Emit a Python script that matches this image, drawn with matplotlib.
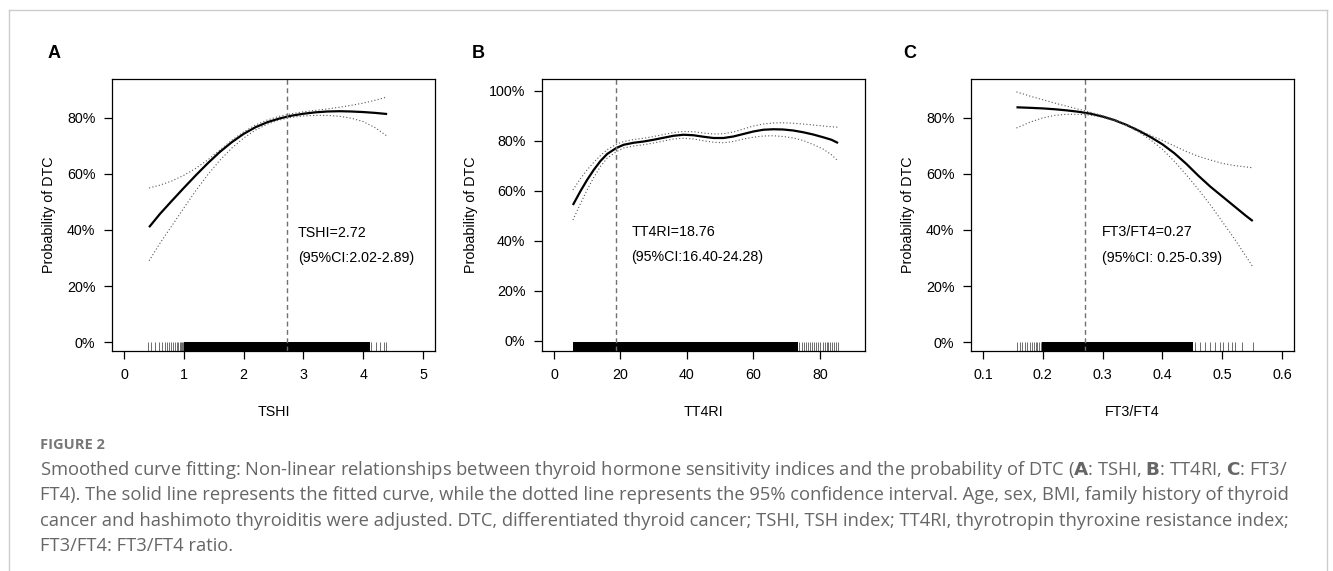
import numpy as np
import matplotlib.pyplot as plt
from matplotlib.lines import Line2D

plt.rcParams['font.family'] = ['Liberation Sans', 'DejaVu Sans']

# ---- panel A: TSHI ----
tshi_x = [0.42, 0.6, 0.8, 1.0, 1.2, 1.4, 1.6, 1.8, 2.0, 2.2, 2.4, 2.6, 2.8, 3.0, 3.2, 3.4, 3.6, 3.8, 4.0, 4.2, 4.4]
tshi_fit = [0.41, 0.457, 0.504, 0.55, 0.595, 0.638, 0.678, 0.713, 0.743, 0.767, 0.785, 0.798, 0.808, 0.815,
            0.82, 0.823, 0.824, 0.823, 0.821, 0.818, 0.814]
tshi_hi = [0.55, 0.56, 0.575, 0.595, 0.62, 0.65, 0.685, 0.72, 0.75, 0.775, 0.793, 0.806, 0.815, 0.822,
           0.827, 0.832, 0.838, 0.845, 0.853, 0.863, 0.875]
tshi_lo = [0.29, 0.352, 0.415, 0.478, 0.54, 0.597, 0.648, 0.692, 0.728, 0.757, 0.778, 0.793, 0.802, 0.807,
           0.809, 0.809, 0.806, 0.799, 0.787, 0.765, 0.735]
tshi_rug = [0.40, 0.45, 0.52, 0.58, 0.64, 0.68, 0.72, 0.76, 0.79, 0.82, 0.85, 0.88, 0.90, 0.93, 0.95, 0.97, 0.99,
            4.13, 4.22, 4.28, 4.34, 4.38]
tshi_dense = [1.0, 4.11]
tshi_cut = 2.72

# ---- panel B: TT4RI ----
tt4ri_x = [5.7, 8, 10, 12, 14, 16, 18.76, 21, 24, 27, 30, 33, 36, 39, 42, 45, 48, 51, 54, 57, 60, 63, 66,
           69, 72, 75, 78, 81, 83.5, 85.5]
tt4ri_fit = [0.544, 0.60, 0.645, 0.685, 0.72, 0.748, 0.772, 0.785, 0.793, 0.798, 0.805, 0.813, 0.821, 0.825,
             0.823, 0.817, 0.812, 0.812, 0.818, 0.828, 0.838, 0.845, 0.847, 0.846, 0.842, 0.835, 0.826,
             0.815, 0.805, 0.792]
tt4ri_hi = [0.604, 0.65, 0.685, 0.715, 0.742, 0.765, 0.787, 0.798, 0.806, 0.811, 0.818, 0.826, 0.834, 0.838,
            0.837, 0.832, 0.828, 0.829, 0.836, 0.848, 0.86, 0.868, 0.872, 0.873, 0.871, 0.868, 0.864,
            0.86, 0.857, 0.855]
tt4ri_lo = [0.484, 0.55, 0.605, 0.655, 0.698, 0.731, 0.757, 0.772, 0.78, 0.785, 0.792, 0.80, 0.808, 0.811,
            0.808, 0.801, 0.795, 0.793, 0.798, 0.808, 0.815, 0.82, 0.821, 0.818, 0.812, 0.802, 0.786,
            0.768, 0.745, 0.72]
tt4ri_rug = [73.8, 74.5, 75.2, 75.8, 76.5, 77.0, 77.6, 78.3, 78.9, 79.6, 80.2, 80.9, 81.5, 82.1,
             82.6, 83.2, 83.8, 84.4, 85.0, 85.5]
tt4ri_dense = [5.7, 73.4]
tt4ri_cut = 18.76

# ---- panel C: FT3/FT4 ----
ft_x = [0.156, 0.18, 0.2, 0.22, 0.24, 0.26, 0.28, 0.30, 0.32, 0.34, 0.36, 0.38, 0.40, 0.42, 0.44, 0.46,
        0.48, 0.50, 0.52, 0.54, 0.551]
ft_fit = [0.838, 0.836, 0.834, 0.831, 0.827, 0.822, 0.815, 0.805, 0.792, 0.775, 0.755, 0.732, 0.706, 0.674,
          0.636, 0.594, 0.555, 0.52, 0.485, 0.45, 0.432]
ft_hi = [0.893, 0.877, 0.865, 0.853, 0.842, 0.831, 0.82, 0.808, 0.794, 0.777, 0.758, 0.738, 0.72, 0.70,
         0.68, 0.663, 0.65, 0.638, 0.63, 0.625, 0.622]
ft_lo = [0.764, 0.786, 0.80, 0.809, 0.813, 0.813, 0.81, 0.802, 0.79, 0.773, 0.75, 0.722, 0.688, 0.645,
         0.597, 0.545, 0.49, 0.43, 0.37, 0.305, 0.269]
ft_rug = [0.157, 0.162, 0.166, 0.170, 0.174, 0.178, 0.182, 0.185, 0.188, 0.191, 0.194, 0.197,
          0.455, 0.463, 0.471, 0.48, 0.488, 0.496, 0.501, 0.51, 0.516, 0.521, 0.533, 0.551]
ft_dense = [0.198, 0.451]
ft_cut = 0.27

panels = [
    dict(letter='A', x=tshi_x, fit=tshi_fit, hi=tshi_hi, lo=tshi_lo, rug=tshi_rug, dense=tshi_dense,
         cut=tshi_cut, xlabel='TSHI', xticks=[0, 1, 2, 3, 4, 5], xticklabels=['0', '1', '2', '3', '4', '5'],
         xlim=(-0.2, 5.2), ylim=(-0.032, 0.939), yticks=[0, 0.2, 0.4, 0.6, 0.8],
         txt=['TSHI=2.72', '(95%CI:2.02-2.89)'], txt_x=2.91, txt_y=[0.39, 0.30],
         left=112, letter_x=48),
    dict(letter='B', x=tt4ri_x, fit=tt4ri_fit, hi=tt4ri_hi, lo=tt4ri_lo, rug=tt4ri_rug, dense=tt4ri_dense,
         cut=tt4ri_cut, xlabel='TT4RI', xticks=[0, 20, 40, 60, 80], xticklabels=['0', '20', '40', '60', '80'],
         xlim=(-3.6, 93.6), ylim=(-0.04, 1.048), yticks=[0, 0.2, 0.4, 0.6, 0.8, 1.0],
         txt=['TT4RI=18.76', '(95%CI:16.40-24.28)'], txt_x=23.3, txt_y=[0.436, 0.336],
         left=542, letter_x=472),
    dict(letter='C', x=ft_x, fit=ft_fit, hi=ft_hi, lo=ft_lo, rug=ft_rug, dense=ft_dense,
         cut=ft_cut, xlabel='FT3/FT4', xticks=[0.1, 0.2, 0.3, 0.4, 0.5, 0.6],
         xticklabels=['0.1', '0.2', '0.3', '0.4', '0.5', '0.6'],
         xlim=(0.08, 0.62), ylim=(-0.032, 0.939), yticks=[0, 0.2, 0.4, 0.6, 0.8],
         txt=['FT3/FT4=0.27', '(95%CI: 0.25-0.39)'], txt_x=0.2995, txt_y=[0.393, 0.30],
         left=971, letter_x=903),
]

W, H = 1333, 571
fig = plt.figure(figsize=(W / 100, H / 100), dpi=100)
fs = 10.3

for p in panels:
    ax = fig.add_axes([p['left'] / W, 1 - 351 / H, 323 / W, 272 / H])
    ax.plot(p['x'], p['fit'], color='black', lw=1.6, solid_capstyle='butt', solid_joinstyle='round')
    ax.plot(p['x'], p['hi'], color='#555555', lw=0.8, ls=(0, (1, 2)))
    ax.plot(p['x'], p['lo'], color='#555555', lw=0.8, ls=(0, (1, 2)))
    ax.axvline(p['cut'], color='#707070', lw=1.0, ls=(0, (3.5, 2.5)))
    # rug
    ax.vlines(p['rug'], 0, 0.033, transform=ax.get_xaxis_transform(), color='#333333', lw=0.5)
    ax.axvspan(p['dense'][0], p['dense'][1], ymin=0, ymax=0.033, color='black', lw=0)
    for t, ty in zip(p['txt'], p['txt_y']):
        ax.text(p['txt_x'], ty, t, fontsize=fs, va='center', ha='left')
    ax.set_xlim(p['xlim'])
    ax.set_ylim(p['ylim'])
    ax.set_xticks(p['xticks'])
    ax.set_xticklabels(p['xticklabels'])
    ax.set_yticks(p['yticks'])
    ax.set_yticklabels(['%d%%' % round(v * 100) for v in p['yticks']])
    ax.tick_params(labelsize=fs, length=6, width=0.9, direction='out', pad=6)
    for s in ax.spines.values():
        s.set_linewidth(0.9)
    ax.set_xlabel(p['xlabel'], fontsize=fs, labelpad=17)
    ax.set_ylabel('Probability of DTC', fontsize=fs, labelpad=8)
    fig.text(p['letter_x'] / W, 1 - 53 / H, p['letter'], fontsize=13, fontweight='bold', va='center', ha='left')

# outer frame of the figure card
frame_c = '#cccccc'
fig.add_artist(Line2D([9 / W, 1327 / W], [1 - 10 / H, 1 - 10 / H], color=frame_c, lw=1))
fig.add_artist(Line2D([9 / W, 9 / W], [0, 1 - 10 / H], color=frame_c, lw=1))
fig.add_artist(Line2D([1327 / W, 1327 / W], [0, 1 - 10 / H], color=frame_c, lw=1))

cap_font = ['Open Sans', 'DejaVu Sans']
fig.text(40 / W, 1 - 445 / H, 'FIGURE 2', fontsize=10.5, fontweight='bold', color='#777777',
         va='center', ha='left', family=cap_font)
caption = [
    'Smoothed curve fitting: Non-linear relationships between thyroid hormone sensitivity indices and the probability of DTC ($\\bf{A}$: TSHI, $\\bf{B}$: TT4RI, $\\bf{C}$: FT3/',
    'FT4). The solid line represents the fitted curve, while the dotted line represents the 95% confidence interval. Age, sex, BMI, family history of thyroid',
    'cancer and hashimoto thyroiditis were adjusted. DTC, differentiated thyroid cancer; TSHI, TSH index; TT4RI, thyrotropin thyroxine resistance index;',
    'FT3/FT4: FT3/FT4 ratio.',
]
for i, line in enumerate(caption):
    fig.text(40 / W, 1 - (470 + 25.3 * i) / H, line, fontsize=13.2, color='#666666',
             va='center', ha='left', family=cap_font)

fig.savefig('out.png', dpi=100)
